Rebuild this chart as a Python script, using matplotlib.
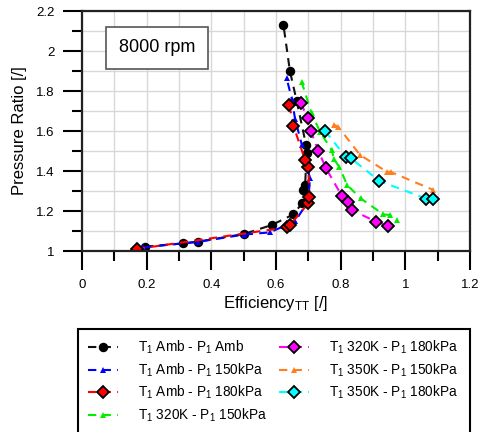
import matplotlib
matplotlib.use("Agg")
import matplotlib.pyplot as plt
from matplotlib.ticker import MultipleLocator
from matplotlib.patches import Rectangle

plt.rcParams['font.family'] = ['Liberation Sans', 'DejaVu Sans']
plt.rcParams['mathtext.fontset'] = 'custom'
plt.rcParams['mathtext.rm'] = 'Liberation Sans'
plt.rcParams['mathtext.it'] = 'Liberation Sans'

# T1 Amb - P1 Amb
amb_amb_x = [0.195, 0.313, 0.360, 0.501, 0.587, 0.654, 0.680, 0.685, 0.690, 0.695, 0.693, 0.664, 0.643, 0.623]
amb_amb_y = [1.022, 1.038, 1.047, 1.085, 1.130, 1.183, 1.238, 1.305, 1.330, 1.488, 1.530, 1.750, 1.900, 2.130]
# T1 Amb - P1 150kPa
amb_150_x = [0.190, 0.360, 0.500, 0.581, 0.660, 0.700, 0.705, 0.680, 0.659, 0.649, 0.633]
amb_150_y = [1.018, 1.046, 1.082, 1.093, 1.150, 1.250, 1.363, 1.530, 1.660, 1.760, 1.863]
# T1 Amb - P1 180kPa
amb_180_x = [0.169, 0.633, 0.643, 0.700, 0.703, 0.700, 0.690, 0.654, 0.641]
amb_180_y = [1.010, 1.118, 1.130, 1.238, 1.272, 1.420, 1.455, 1.625, 1.730]
# T1 320K - P1 150kPa
k320_150_x = [0.679, 0.710, 0.736, 0.772, 0.780, 0.796, 0.820, 0.862, 0.932, 0.953, 0.975]
k320_150_y = [1.847, 1.688, 1.597, 1.505, 1.458, 1.420, 1.330, 1.263, 1.183, 1.180, 1.155]
# T1 320K - P1 180kPa
k320_180_x = [0.677, 0.698, 0.707, 0.731, 0.755, 0.803, 0.824, 0.834, 0.909, 0.947]
k320_180_y = [1.740, 1.663, 1.602, 1.500, 1.413, 1.277, 1.243, 1.205, 1.147, 1.125]
# T1 350K - P1 150kPa
k350_150_x = [0.780, 0.793, 0.860, 0.942, 0.955, 1.087]
k350_150_y = [1.630, 1.620, 1.480, 1.397, 1.395, 1.305]
# T1 350K - P1 180kPa
k350_180_x = [0.752, 0.817, 0.832, 0.920, 1.064, 1.085]
k350_180_y = [1.600, 1.468, 1.463, 1.350, 1.262, 1.262]

labels = [r'T$_1$ Amb - P$_1$ Amb', r'T$_1$ Amb - P$_1$ 150kPa', r'T$_1$ Amb - P$_1$ 180kPa',
          r'T$_1$ 320K - P$_1$ 150kPa', r'T$_1$ 320K - P$_1$ 180kPa', r'T$_1$ 350K - P$_1$ 150kPa',
          r'T$_1$ 350K - P$_1$ 180kPa']

fig = plt.figure(figsize=(4.79, 4.32), dpi=100)
ax = fig.add_axes([82/479, 1-251/432, 388/479, 240/432])

dash = (0, (4, 3))
series = [
    (amb_amb_x, amb_amb_y, '#111111', 'o', 5.5, 'black'),
    (amb_150_x, amb_150_y, '#0000ff', '^', 5, None),
    (amb_180_x, amb_180_y, '#ff0000', 'D', 6, 'black'),
    (k320_150_x, k320_150_y, '#00ee00', '^', 5, None),
    (k320_180_x, k320_180_y, '#ff00ff', 'D', 6, 'black'),
    (k350_150_x, k350_150_y, '#ff7f1e', '^', 5, None),
    (k350_180_x, k350_180_y, '#00ffff', 'D', 6, 'black'),
]
handles = []
for (x, y, c, m, ms, ec), lab in zip(series, labels):
    mfc = 'black' if m == 'o' else c
    h, = ax.plot(x, y, linestyle=dash, color=c, lw=1.5, marker=m, ms=ms,
                 mfc=mfc, mec=(ec if ec else c), mew=(1.3 if ec else 0), label=lab)
    handles.append(h)

ax.set_xlim(0, 1.2)
ax.set_ylim(1, 2.2)
ax.xaxis.set_minor_locator(MultipleLocator(0.1))
ax.yaxis.set_minor_locator(MultipleLocator(0.1))
ax.set_xticks([0, 0.2, 0.4, 0.6, 0.8, 1.0, 1.2])
ax.set_xticklabels(['0', '0.2', '0.4', '0.6', '0.8', '1', '1.2'])
ax.set_yticks([1, 1.2, 1.4, 1.6, 1.8, 2, 2.2])
ax.set_yticklabels(['1', '1.2', '1.4', '1.6', '1.8', '2', '2.2'])
ax.grid(True, which='both', color='#d8d8d8', lw=1)
ax.set_axisbelow(True)
ax.tick_params(which='major', direction='out', length=14, width=1.5, labelsize=9.5, colors='black', pad=6)
ax.tick_params(which='minor', direction='out', length=7, width=1.5)
for s in ax.spines.values():
    s.set_linewidth(1.6)
    s.set_color('#222222')

ax.set_xlabel(r'Efficiency$_{\mathregular{TT}}$ [/]', fontsize=12, labelpad=2)
ax.set_ylabel('Pressure Ratio [/]', fontsize=12, labelpad=6)

ax.text(0.193, 0.846, '8000 rpm', transform=ax.transAxes, fontsize=13, ha='center', va='center',
        bbox=dict(boxstyle='square,pad=0.7', fc='white', ec='#555555', lw=1.2))

# legend frame drawn manually (extends past bottom edge like the reference)
fig.patches.append(Rectangle((78/479, -0.02), 392/479, 1-329/432+0.02, transform=fig.transFigure,
                             fill=False, ec='black', lw=1.5))
leg = fig.legend(handles=handles, labels=labels, ncol=2, loc='upper left',
                 bbox_to_anchor=(78/479, 1-329/432),
                 fontsize=9.8, frameon=False,
                 handlelength=2.2, handletextpad=1.45, labelspacing=0.38, borderpad=0.73,
                 columnspacing=0.95, borderaxespad=0)

fig.savefig('out.png', dpi=100)
